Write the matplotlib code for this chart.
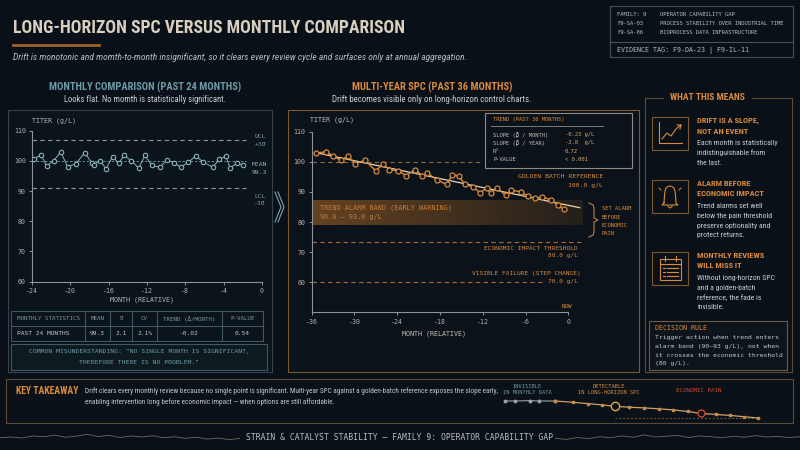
import numpy as np
import matplotlib
matplotlib.use("Agg")
import matplotlib.pyplot as plt
from matplotlib.patches import Rectangle

# ---------------- data ----------------
monthly_x = [-23.79, -23.06, -22.47, -21.74, -21.01, -20.28, -19.44, -18.50, -17.77, -17.53,
             -16.90, -16.28, -15.58, -14.95, -14.40, -13.63, -12.87, -12.20, -11.51, -10.64,
             -9.94, -9.18, -8.48, -7.68, -6.92, -6.12, -5.14, -4.45, -3.78, -3.33, -2.57, -2.01]
monthly_y = [100.5, 102.1, 98.3, 100.1, 102.9, 98.1, 99.0, 102.7, 99.4, 98.8,
             100.1, 97.4, 101.4, 99.2, 101.8, 100.1, 97.6, 101.8, 98.5, 97.9,
             100.3, 99.4, 97.9, 99.6, 101.6, 99.6, 97.9, 100.5, 101.6, 97.6, 99.4, 98.5]
monthly_ucl = 106.9
monthly_mean = 100.0
monthly_lcl = 91.1

spc_x = [-35.44, -34.0, -32.97, -31.93, -30.87, -29.93, -28.52, -27.02, -26.0, -25.1,
         -23.85, -22.77, -21.5, -20.48, -19.78, -18.38, -17.07, -16.28, -15.34, -14.5,
         -13.33, -12.4, -11.47, -10.9, -9.97, -8.8, -8.05, -6.69, -5.62, -4.68,
         -3.66, -2.44, -1.5, -0.66]
spc_y = [102.8, 103.4, 101.9, 100.5, 101.9, 99.4, 100.5, 97.0, 99.2, 97.4,
         97.0, 95.4, 97.4, 95.4, 96.3, 93.9, 92.5, 95.7, 95.2, 92.5,
         91.7, 89.7, 91.2, 89.7, 91.2, 89.0, 90.5, 90.1, 88.5, 87.9,
         88.3, 87.4, 85.7, 84.3]
golden_ref = 100.0
alarm_low, alarm_high = 79.1, 87.4
econ_level = 73.3
failure_level = 60.0

stats_header = ["MONTHLY STATISTICS", "MEAN", "σ", "CV", "TREND (Δ/MONTH)", "P-VALUE"]
stats_row = ["PAST 24 MONTHS", "99.3", "2.1", "2.1%", "-0.02", "0.54"]

trend_labels = ["SLOPE (β / MONTH)", "SLOPE (β / YEAR)", "R²", "P-VALUE"]
trend_values = ["-0.23 g/L", "-2.8  g/L", "0.72", "< 0.001"]

mini_x = [0, 0.71, 1.76, 2.42, 3.53, 4.78, 5.81, 6.82, 7.69, 8.71, 9.76, 10.78,
          11.76, 12.82, 13.76, 14.78, 15.76, 16.78, 17.76]
mini_y = [100, 100, 100.25, 100, 100, 99, 98, 97, 96, 95.25, 94.75, 94,
          93.25, 92, 90.5, 89.75, 89, 88, 87]
mini_gray_n = 5
mini_detect = 8
mini_pain = 14

wave_left = [0.2, 0.5, 0.1, 0.9, 0.6, 1.2, 0.4, 0.8, 1.5, 0.7, 1.1, 0.3,
             0.9, 0.5, 1.0, 0.2, 0.6, 0.0, 0.4, -0.3, 0.1, -0.5, 0.0]
wave_right = [0.0, -0.4, 0.3, -0.1, 0.6, 0.2, 0.9, 0.4, 1.3, 0.5, 0.8, 1.1,
              0.3, 0.9, 0.6, 0.2, 0.8, 0.4, 1.0, 0.5, 0.7, 0.3, 0.6]

# ---------------- style ----------------
BG = "#0a1018"
TEAL = "#6d9ca6"
TEAL_L = "#8ab4bb"
ORANGE = "#d98a3d"
ORANGE_D = "#a8692f"
LIGHT = "#c9cdd0"
BEIGE = "#d9cfbf"
RED = "#d0452f"
COND = ["Roboto Condensed", "Liberation Sans Narrow", "DejaVu Sans"]
MONO = ["DejaVu Sans Mono"]
plt.rcParams["font.family"] = COND
plt.rcParams["axes.unicode_minus"] = False

fig = plt.figure(figsize=(8, 4.5), dpi=100, facecolor=BG)
ov = fig.add_axes([0, 0, 1, 1])
ov.set_xlim(0, 800)
ov.set_ylim(450, 0)
ov.axis("off")


def T(x, y, s, size, color, ha="left", va="center", fam=COND, **kw):
    ov.text(x, y, s, fontsize=size, color=color, ha=ha, va=va, family=fam, **kw)


def box(x0, y0, x1, y1, ec, fc="none", lw=0.8, z=1):
    ov.add_patch(Rectangle((x0, y0), x1 - x0, y1 - y0, ec=ec, fc=fc, lw=lw, zorder=z))


def px_axes(x0, y0, x1, y1):
    a = fig.add_axes([x0 / 800, 1 - y1 / 450, (x1 - x0) / 800, (y1 - y0) / 450])
    a.set_facecolor("none")
    return a


# ---------------- header ----------------
T(13, 28, "LONG-HORIZON SPC VERSUS MONTHLY COMPARISON", 12.8, BEIGE, weight="bold")
ov.plot([13, 99], [45, 45], color="#a0622c", lw=2)
T(13, 58, "Drift is monotonic and momth-to-month insignificant, so it clears every review cycle "
          "and surfaces only at annual aggregation.", 6.8, "#b8bdc1", style="italic")

box(610, 6, 793, 57, "#4a5058")
ov.plot([610, 793], [42, 42], color="#4a5058", lw=0.8)
for i, (a, b) in enumerate([("FAMILY: 9", "OPERATOR CAPABILITY GAP"),
                            ("F9-SA-03", "PROCESS STABILITY OVER INDUSTRIAL TIME"),
                            ("F9-SA-06", "BIOPROCESS DATA INFRASTRUCTURE")]):
    T(617, 14 + i * 9.5, a, 4.0, "#b8bcc0", fam=MONO)
    T(660, 14 + i * 9.5, b, 4.0, "#b8bcc0", fam=MONO)
T(617, 50, "EVIDENCE TAG: F9-DA-23 | F9-IL-11", 4.8, "#b8bcc0", fam=MONO)

# ---------------- left panel ----------------
box(8, 110, 272, 372, "#34434d", fc="#0b131b")
T(145, 87, "MONTHLY COMPARISON (PAST 24 MONTHS)", 7.6, TEAL, ha="center", weight="bold")
T(145, 100, "Looks flat. No momth is statistically significant.", 6.2, LIGHT, ha="center")
T(32, 121, "TITER (g/L)", 4.8, "#b0b8bc", fam=MONO)
T(142, 300, "MONTH (RELATIVE)", 4.8, "#b0b8bc", ha="center", fam=MONO)

axl = px_axes(32, 130.7, 262, 281.7)
axl.set_xlim(-24, 0)
axl.set_ylim(60, 110)
axl.axhline(monthly_ucl, xmax=0.93, color="#8e999e", lw=0.8, ls=(0, (4, 3)))
axl.axhline(monthly_lcl, xmax=0.93, color="#8e999e", lw=0.8, ls=(0, (4, 3)))
axl.axhline(monthly_mean, xmax=0.93, color=TEAL, lw=0.6, ls=(0, (3, 2)))
axl.plot(monthly_x, monthly_y, color=TEAL_L, lw=0.7, marker="o", ms=3.2,
         mfc="#0b131b", mec=TEAL_L, mew=0.8)
axl.set_xticks(range(-24, 1, 4))
axl.set_yticks(range(60, 111, 10))

T(266, 137, "UCL", 4.6, "#7c9ca4", ha="right", fam=MONO)
T(266, 144.5, "+3σ", 4.6, "#7c9ca4", ha="right", fam=MONO)
T(267, 165, "MEAN", 4.6, TEAL_L, ha="right", fam=MONO)
T(267, 172.5, "99.3", 4.6, TEAL_L, ha="right", fam=MONO)
T(266, 196, "LCL", 4.6, "#7c9ca4", ha="right", fam=MONO)
T(266, 203.5, "-3σ", 4.6, "#7c9ca4", ha="right", fam=MONO)
ov.plot([275, 281, 275], [192, 207, 222], color="#7fa3ab", lw=0.8)
ov.plot([278, 284, 278], [192, 207, 222], color="#7fa3ab", lw=0.8)

# stats table
cols = [11, 85, 110, 132, 157, 222, 263]
box(11, 311, 263, 341, "#415860")
ov.plot([11, 263], [326, 326], color="#415860", lw=0.8)
for c in cols[1:-1]:
    ov.plot([c, c], [311, 341], color="#415860", lw=0.8)
for i in range(6):
    if i == 0:
        T(17, 318.5, stats_header[i], 4.2, "#7f9499", fam=MONO)
        T(17, 333.5, stats_row[i], 4.5, "#c0c6c9", fam=MONO)
    else:
        cx = (cols[i] + cols[i + 1]) / 2
        T(cx, 318.5, stats_header[i], 4.2, "#7f9499", ha="center", fam=MONO)
        T(cx, 333.5, stats_row[i], 4.5, "#c0c6c9", ha="center", fam=MONO)
box(11, 344, 267, 370, "#415860", fc="#0d1a20")
T(139, 352, 'COMMON MISUNDERSTANDING: "NO SINGLE MONTH IS SIGNIFICANT,', 4.6, TEAL, ha="center", fam=MONO)
T(139, 363, 'THEREFORE THERE IS NO PROBLEM."', 4.6, TEAL, ha="center", fam=MONO)

# ---------------- middle panel ----------------
box(288, 110, 639, 372, "#7a5a30", fc="#0b1219")
T(432, 87, "MULTI-YEAR SPC (PAST 36 MONTHS)", 7.6, ORANGE, ha="center", weight="bold")
T(432, 100, "Drift becomes visible only on long-horizon control charts.", 6.4, LIGHT, ha="center")
T(310, 120, "TITER (g/L)", 4.8, "#c3c0b8", fam=MONO)
T(434, 334, "MONTH (RELATIVE)", 4.8, "#c3c0b8", ha="center", fam=MONO)

axm = px_axes(311.7, 131.7, 568.3, 312.3)
axm.set_xlim(-36, 0)
axm.set_ylim(50, 110)
band_rgba = np.zeros((1, 200, 4))
band_rgba[..., :3] = matplotlib.colors.to_rgb("#b06a28")
band_rgba[..., 3] = np.linspace(0.55, 0.15, 200)
axm.imshow(band_rgba, extent=[-36, 1.9, alarm_low, alarm_high], aspect="auto",
           clip_on=False, zorder=1)
axm.hlines(golden_ref, -36, -12.1, color="#8a6a45", lw=0.8, ls=(0, (4, 3)))
axm.hlines(econ_level, -36, 2.0, color=ORANGE_D, lw=0.8, ls=(0, (4, 3)), clip_on=False)
axm.hlines(failure_level, -36, -3.6, color=ORANGE_D, lw=0.8, ls=(0, (4, 3)))
axm.axvline(0, ymin=0.05, ymax=0.643, color="#9a8a70", lw=0.7, ls=(0, (3, 2)))
fit = np.polyfit(spc_x, spc_y, 1)
tx = np.array([spc_x[0] - 0.1, 1.6])
axm.plot(tx, np.polyval(fit, tx), color="#e8d5b5", lw=0.9, zorder=3, clip_on=False)
axm.plot(spc_x, spc_y, color=ORANGE, lw=1.0, marker="o", ms=3.6,
         mfc="#0b1219", mec=ORANGE, mew=0.9, zorder=4)
axm.set_xticks(range(-36, 1, 6))
axm.set_yticks(range(60, 111, 10))

# trend box
box(485, 113, 632, 168, "#8d8c85", fc="#0b1219", z=5)
T(493, 120, "TREND (PAST 36 MONTHS)", 4.0, ORANGE, fam=MONO, zorder=6)
ov.plot([491, 603], [126, 126], color="#8d8c85", lw=0.6, zorder=6)
for i, (lab, val) in enumerate(zip(trend_labels, trend_values)):
    T(493, 134.5 + i * 8.3, lab, 4.0, "#c3c0b8", fam=MONO, zorder=6)
    T(565, 134.5 + i * 8.3, val, 4.0, "#d9a870", fam=MONO, zorder=6)
T(603, 177, "GOLDEN BATCH REFERENCE", 4.6, ORANGE, ha="right", fam=MONO)
T(603, 185, "100.0 g/L", 4.6, ORANGE, ha="right", fam=MONO)
T(320, 208, "TREND ALARM BAND (EARLY WARNING)", 4.9, ORANGE, fam=MONO)
T(320, 217, "90.0 – 93.0 g/L", 4.9, "#c09060", fam=MONO)
ov.plot([589, 593, 594, 594, 598, 594, 594, 593, 589],
        [203, 205, 208, 218, 220, 222, 232, 235, 237], color="#c08040", lw=0.8)
for i, s in enumerate(["SET ALARM", "BEFORE", "ECONOMIC", "PAIN"]):
    T(602, 209 + i * 8.3, s, 4.0, ORANGE, fam=MONO)
T(578, 248, "ECONOMIC IMPACT THRESHOLD", 4.4, ORANGE, ha="right", fam=MONO)
T(578, 256, "80.0 g/L", 4.4, ORANGE, ha="right", fam=MONO)
T(581, 273, "VISIBLE FAILURE (STEP CHANGE)", 4.4, ORANGE, ha="right", fam=MONO)
T(578, 282, "70.0 g/L", 4.4, ORANGE, ha="right", fam=MONO)
T(572, 306, "NOW", 4.2, ORANGE, ha="right", fam=MONO)

for a_, tc in [(axl, "#a9b1b5"), (axm, "#b6b2aa")]:
    for sp in ["top", "right"]:
        a_.spines[sp].set_visible(False)
    for sp in ["left", "bottom"]:
        a_.spines[sp].set_color("#8a949a")
        a_.spines[sp].set_linewidth(0.8)
    a_.tick_params(colors="#8a949a", labelcolor=tc, labelsize=4.8, length=2.5, width=0.7, pad=2)
    for lb in a_.get_xticklabels() + a_.get_yticklabels():
        lb.set_family(MONO)

# ---------------- right panel ----------------
ov.plot([645, 645, 792, 792, 752], [98, 372, 372, 98, 98], color="#5d4a33", lw=0.8)
ov.plot([645, 663], [98, 98], color="#5d4a33", lw=0.8)
T(707, 98, "WHAT THIS MEANS", 6.8, ORANGE, ha="center", weight="bold")
items = [
    (117, ["DRIFT IS A SLOPE,", "NOT AN EVENT"],
     ["Each month is statistically", "indistinguishable from", "the last."]),
    (180, ["ALARM BEFORE", "ECONOMIC IMPACT"],
     ["Trend alarms set well", "below the pain threshold", "preserve optionality and", "protect returns."]),
    (252, ["MONTHLY REVIEWS", "WILL MISS IT"],
     ["Without long-horizon SPC", "and a golden-batch", "reference, the fade is", "invisible."]),
]
for y0, head, body in items:
    box(652, y0, 688, y0 + 33, "#7a5a35")
    for j, h in enumerate(head):
        T(697, y0 + 3.5 + j * 10.5, h, 6.0, ORANGE, weight="bold")
    for j, b in enumerate(body):
        T(697, y0 + 26 + j * 9.8, b, 5.6, LIGHT)
# icons
ov.plot([659, 659, 682], [122, 143, 143], color=ORANGE, lw=0.8)
ov.plot([662, 667, 671, 676, 681], [139, 133, 136, 129, 125], color=ORANGE, lw=0.8)
ov.plot([677, 681, 680], [125, 125, 129], color=ORANGE, lw=0.8)
bell_x = [664, 664.5, 665, 666, 668, 670, 672, 674, 675, 675.5, 676, 678, 662, 664]
bell_y = [203, 196, 191, 188, 186.5, 186, 186.5, 188, 191, 196, 203, 205, 205, 203]
ov.plot(bell_x, bell_y, color=ORANGE, lw=0.8)
ov.plot([668, 670, 672], [206.5, 208, 206.5], color=ORANGE, lw=0.8)
ov.plot([659, 661], [188, 190], color=ORANGE, lw=0.7)
ov.plot([681, 679], [188, 190], color=ORANGE, lw=0.7)
box(660, 259, 681, 280, ORANGE)
ov.plot([660, 681], [264, 264], color=ORANGE, lw=0.8)
ov.plot([665, 665], [256, 261], color=ORANGE, lw=0.8)
ov.plot([676, 676], [256, 261], color=ORANGE, lw=0.8)
for yy in [268, 272, 276]:
    ov.plot([663, 665], [yy, yy], color=ORANGE, lw=0.8)
    ov.plot([667, 678], [yy, yy], color=ORANGE, lw=0.8)

box(649, 321, 787, 370, "#6b5a45", fc="#0e141b")
T(655, 328, "DECISION RULE", 4.8, ORANGE, fam=MONO)
for j, s in enumerate(["Trigger action when trend enters", "alarm band (90–93 g/L), not when",
                       "it crosses the economic threshold", "(80 g/L)."]):
    T(655, 338 + j * 8.6, s, 4.6, "#c3c7ca", fam=MONO)

# ---------------- takeaway ----------------
box(6, 379, 793, 423, "#5e4a33", fc="#0b1118")
T(16, 391, "KEY TAKEAWAY", 7.0, ORANGE, weight="bold")
T(85, 391, "Drift clears every monthly review because no single point is significant. "
           "Multi-year SPC against a golden-batch reference exposes the slope early,", 5.2, "#c3c7ca")
T(85, 402, "enabling intervention long before economic impact — when options are still affordable.",
  5.2, "#c3c7ca")

axk = px_axes(505, 401, 758, 418)
axk.axis("off")
axk.set_xlim(0, 17.76)
axk.set_ylim(87, 100)
axk.hlines(mini_y[-1], mini_x[mini_detect], 17.9, color="#6b5a45", lw=0.7, ls=(0, (2, 2)), clip_on=False)
axk.plot(mini_x[:mini_gray_n], mini_y[:mini_gray_n], color="#9aa4a8", lw=0.8,
         marker="o", ms=1.8, clip_on=False)
axk.plot(mini_x[mini_gray_n - 1:], mini_y[mini_gray_n - 1:], color="#d0a060", lw=0.9,
         marker="s", ms=2.0, mfc="#c88a4a", mec="#c88a4a", clip_on=False)
axk.plot(mini_x[mini_detect], mini_y[mini_detect], "o", ms=6, mfc="#0b1118",
         mec="#e0a050", mew=1.0, clip_on=False)
axk.plot(mini_x[mini_pain], mini_y[mini_pain], "o", ms=5, mfc="#0b1118",
         mec=RED, mew=1.0, clip_on=False)
T(527, 386, "INVISIBLE", 3.9, TEAL, ha="center", fam=MONO)
T(527, 393, "IN MONTHLY DATA", 3.9, TEAL, ha="center", fam=MONO)
T(609, 386, "DETECTABLE", 3.9, ORANGE, ha="center", fam=MONO)
T(609, 393, "IN LONG-HORIZON SPC", 3.9, ORANGE, ha="center", fam=MONO)
T(699, 391, "ECONOMIC PAIN", 4.2, RED, ha="center", fam=MONO)

# ---------------- footer ----------------
T(400, 437, "STRAIN & CATALYST STABILITY — FAMILY 9: OPERATOR CAPABILITY GAP", 5.8, "#b8bcc0",
  ha="center", fam=MONO)
axw1 = px_axes(0, 433, 240, 441)
axw1.axis("off")
axw1.plot(np.arange(len(wave_left)), wave_left, color="#6e6a63", lw=0.6)
axw1.set_xlim(0, len(wave_left) - 1)
axw1.set_ylim(-1, 2)
axw2 = px_axes(555, 433, 800, 441)
axw2.axis("off")
axw2.plot(np.arange(len(wave_right)), wave_right, color="#6e6a63", lw=0.6)
axw2.set_xlim(0, len(wave_right) - 1)
axw2.set_ylim(-1, 2)

fig.savefig("out.png", dpi=100, facecolor=BG)
